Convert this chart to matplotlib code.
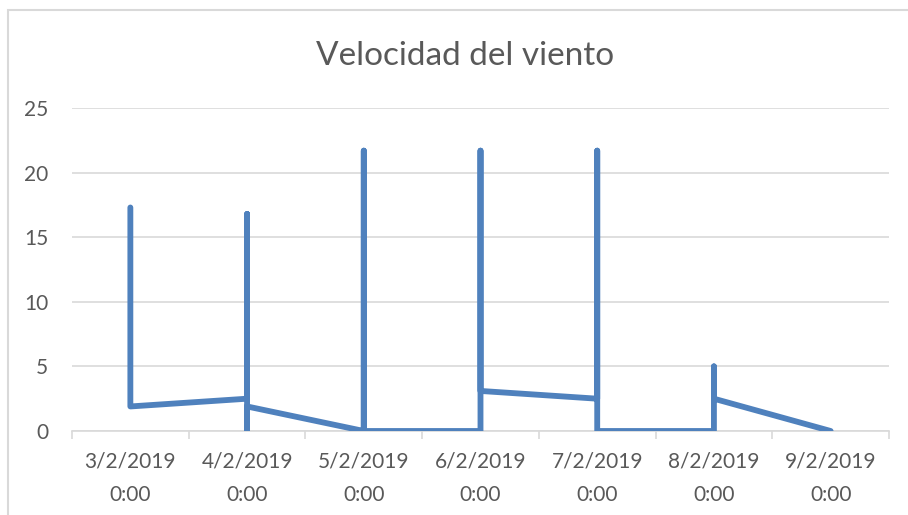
import numpy as np
import pandas as pd
import matplotlib
matplotlib.use('Agg')
import matplotlib.pyplot as plt
import matplotlib.dates as mdates
from matplotlib.patches import Rectangle

# datos (varias lecturas por dia caen en la misma fecha)
fechas = ['2019-02-03', '2019-02-03', '2019-02-03',
          '2019-02-04', '2019-02-04', '2019-02-04', '2019-02-04',
          '2019-02-05', '2019-02-05', '2019-02-05',
          '2019-02-06', '2019-02-06', '2019-02-06',
          '2019-02-07', '2019-02-07', '2019-02-07',
          '2019-02-08', '2019-02-08', '2019-02-08',
          '2019-02-09']
velocidad = [17.3, 5.5, 1.9,
             2.5, 16.8, 0.0, 1.9,
             0.0, 21.7, 0.0,
             0.0, 21.7, 3.1,
             2.5, 21.7, 0.0,
             0.0, 5.0, 2.5,
             0.0]
etiquetas_x = ['3/2/2019\n0:00', '4/2/2019\n0:00', '5/2/2019\n0:00', '6/2/2019\n0:00',
               '7/2/2019\n0:00', '8/2/2019\n0:00', '9/2/2019\n0:00']
titulo = 'Velocidad del viento'

plt.rcParams['font.family'] = ['Lato', 'DejaVu Sans']
gris_texto = '#595959'
gris_linea = '#d9d9d9'
azul = '#4f81bd'

x = mdates.date2num(pd.to_datetime(fechas))
dias = np.unique(x)

fig = plt.figure(figsize=(9.08, 5.15), dpi=100)
# borde del area del grafico
fig.patches.append(Rectangle((8 / 908, -0.05), 1.1, 1 - 10 / 515 + 0.05,
                             transform=fig.transFigure, fill=False,
                             edgecolor=gris_linea, linewidth=1.5))

ax = fig.add_axes([72 / 908, 1 - 431 / 515, (889 - 72) / 908, (431 - 108) / 515])
ax.plot(x, velocidad, color=azul, linewidth=4.2, solid_capstyle='round',
        solid_joinstyle='round', zorder=3)

ax.set_xlim(dias[0] - 0.5, dias[-1] + 0.5)
ax.set_ylim(0, 25)
ax.set_yticks(range(0, 26, 5))
ax.set_xticks(dias)
ax.set_xticklabels(etiquetas_x, linespacing=1.85)
ax.set_xticks(np.append(dias - 0.5, dias[-1] + 0.5), minor=True)

ax.grid(axis='y', color=gris_linea, linewidth=1.2)
ax.set_axisbelow(True)
for lado in ['top', 'right', 'left']:
    ax.spines[lado].set_visible(False)
ax.spines['bottom'].set_color(gris_linea)
ax.spines['bottom'].set_linewidth(1.2)
ax.tick_params(axis='x', which='major', length=0, pad=15, labelsize=15, labelcolor=gris_texto)
ax.tick_params(axis='x', which='minor', length=6, width=1.2, color=gris_linea)
ax.tick_params(axis='y', length=0, pad=17, labelsize=15, labelcolor=gris_texto)

fig.text(465 / 908, 1 - 56 / 515, titulo, ha='center', va='center',
         fontsize=24, color=gris_texto)

fig.savefig('out.png', dpi=100)
